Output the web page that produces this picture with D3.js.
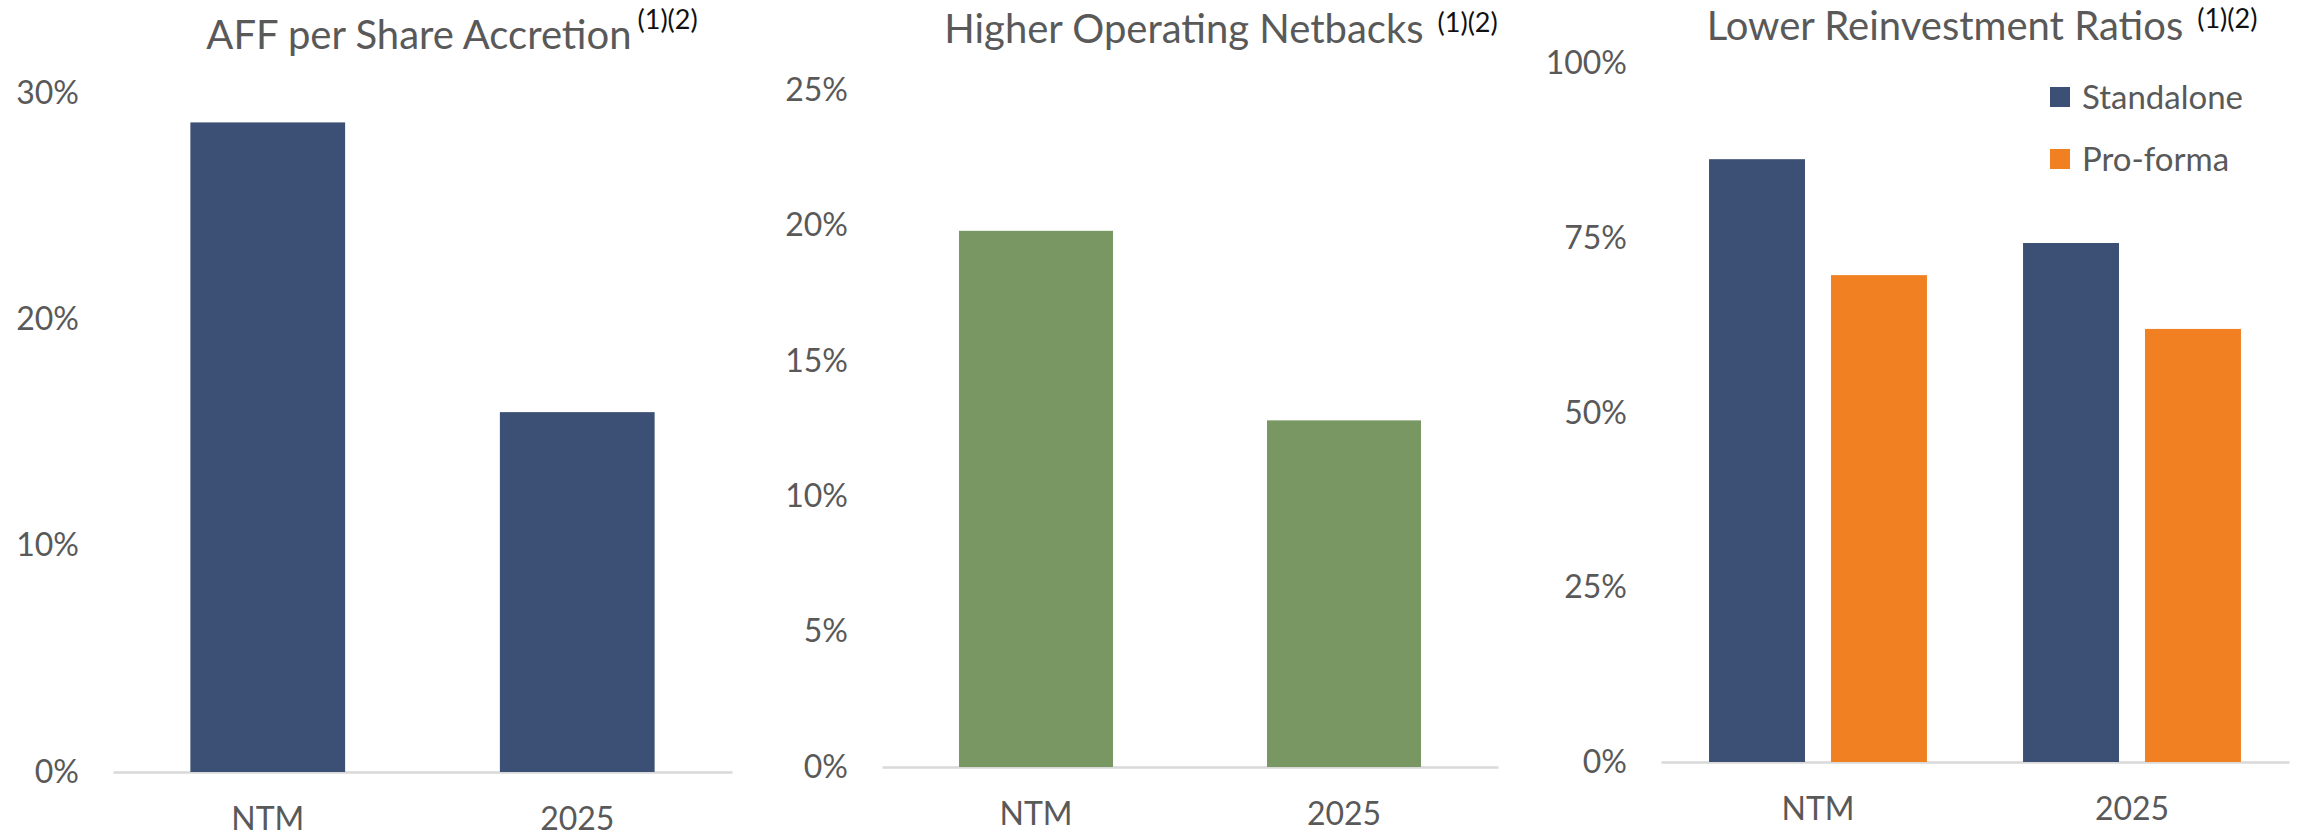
<!DOCTYPE html>
<html>
<head>
<meta charset="utf-8">
<script src="https://cdn.jsdelivr.net/npm/d3@7"></script>
<style>
    body { margin: 0; background: #fff; }
    svg text { font-family: Lato, "Open Sans", sans-serif; }
</style>
</head>
<body>
<div id="chart-area"></div>
<script>
// values (percent)
var categories = ["NTM", "2025"];
var affAccretion = [28.7, 15.9];
var netbacks = [19.8, 12.8];
var reinvestStandalone = [86.3, 74.3];
var reinvestProforma = [69.7, 62.0];
var seriesNames = ["Standalone", "Pro-forma"];

var ticksAff = [0, 10, 20, 30];
var ticksNetback = [0, 5, 10, 15, 20, 25];
var ticksReinvest = [0, 25, 50, 75, 100];

var navy = "#3c4f75";
var green = "#789763";
var orange = "#f08022";
var textGrey = "#595959";

var svg = d3.select("#chart-area")
    .append("svg")
    .attr("width", 2315)
    .attr("height", 838);

// one panel = box + scales + axes
function panel(opt) {
    var g = svg.append("g");

    var x = d3.scaleBand()
        .domain(categories)
        .range([opt.left, opt.right])
        .paddingInner(opt.padInner)
        .paddingOuter(opt.padInner / 2);

    var y = d3.scaleLinear()
        .domain([0, d3.max(opt.ticks)])
        .range([opt.bottom, opt.top]);

    // y labels, no line
    var yAxis = g.append("g")
        .attr("transform", "translate(" + opt.left + ",0)")
        .call(d3.axisLeft(y)
            .tickValues(opt.ticks)
            .tickSize(0)
            .tickPadding(34)
            .tickFormat(function (d) { return d + "%"; }));
    yAxis.select(".domain").remove();
    yAxis.selectAll("text")
        .attr("font-size", "32px")
        .attr("font-family", "Lato, sans-serif")
        .attr("fill", textGrey);

    // x axis: grey base line + category names
    var xAxis = g.append("g")
        .attr("transform", "translate(0," + opt.bottom + ")")
        .call(d3.axisBottom(x).tickSize(0).tickPadding(35));
    xAxis.select(".domain")
        .attr("stroke", "#d9d9d9")
        .attr("stroke-width", 2.5);
    xAxis.selectAll("text")
        .attr("font-size", "32px")
        .attr("font-family", "Lato, sans-serif")
        .attr("fill", textGrey);

    // title with footnote marks
    var title = g.append("text")
        .attr("x", opt.titleX)
        .attr("y", opt.titleY)
        .attr("text-anchor", "middle")
        .attr("font-size", "40px")
        .attr("fill", textGrey)
        .text(opt.title);
    title.append("tspan")
        .attr("dx", opt.supGap)
        .attr("dy", opt.supDy)
        .attr("font-size", "27px")
        .attr("fill", "#111")
        .text("(1)(2)");

    return { g: g, x: x, y: y };
}

/// chart 1
var p1 = panel({
    left: 113, right: 732, top: 93, bottom: 772,
    padInner: 0.5, ticks: ticksAff,
    title: "AFF per Share Accretion", titleX: 452, titleY: 49, supGap: 6, supDy: -20
});
p1.g.selectAll("rect.bar")
    .data(affAccretion)
    .enter()
    .append("rect")
    .attr("class", "bar")
    .attr("x", function (d, i) { return p1.x(categories[i]); })
    .attr("width", p1.x.bandwidth())
    .attr("y", function (d) { return p1.y(d); })
    .attr("height", function (d) { return p1.y(0) - p1.y(d); })
    .attr("fill", navy);

/// chart 2
var p2 = panel({
    left: 882, right: 1498, top: 90, bottom: 767,
    padInner: 0.5, ticks: ticksNetback,
    title: "Higher Operating Netbacks", titleX: 1221, titleY: 43, supGap: 14, supDy: -11
});
p2.g.selectAll("rect.bar")
    .data(netbacks)
    .enter()
    .append("rect")
    .attr("class", "bar")
    .attr("x", function (d, i) { return p2.x(categories[i]); })
    .attr("width", p2.x.bandwidth())
    .attr("y", function (d) { return p2.y(d); })
    .attr("height", function (d) { return p2.y(0) - p2.y(d); })
    .attr("fill", green);

/// chart 3 - grouped
var p3 = panel({
    left: 1661, right: 2289, top: 63.5, bottom: 762,
    padInner: 0.306, ticks: ticksReinvest,
    title: "Lower Reinvestment Ratios", titleX: 1982, titleY: 40, supGap: 14, supDy: -12
});
var inner = d3.scaleBand()
    .domain(seriesNames)
    .range([0, p3.x.bandwidth()])
    .paddingInner(0.213);
var color = d3.scaleOrdinal().domain(seriesNames).range([navy, orange]);

var rows = categories.map(function (c, i) {
    return { cat: c, vals: [reinvestStandalone[i], reinvestProforma[i]] };
});
var groups = p3.g.selectAll("g.grp")
    .data(rows)
    .enter()
    .append("g")
    .attr("class", "grp")
    .attr("transform", function (d) { return "translate(" + p3.x(d.cat) + ",0)"; });
groups.selectAll("rect")
    .data(function (d) { return d.vals; })
    .enter()
    .append("rect")
    .attr("x", function (d, i) { return inner(seriesNames[i]); })
    .attr("width", inner.bandwidth())
    .attr("y", function (d) { return p3.y(d); })
    .attr("height", function (d) { return p3.y(0) - p3.y(d); })
    .attr("fill", function (d, i) { return color(seriesNames[i]); });

// legend
var legend = svg.append("g").attr("transform", "translate(2050,87)");
var items = legend.selectAll("g")
    .data(seriesNames)
    .enter()
    .append("g")
    .attr("transform", function (d, i) { return "translate(0," + (i * 62) + ")"; });
items.append("rect")
    .attr("width", 20)
    .attr("height", 20)
    .attr("fill", function (d) { return color(d); });
items.append("text")
    .attr("x", 32)
    .attr("y", 10)
    .attr("dy", "0.35em")
    .attr("font-size", "33px")
    .attr("fill", textGrey)
    .text(function (d) { return d; });
</script>
</body>
</html>
